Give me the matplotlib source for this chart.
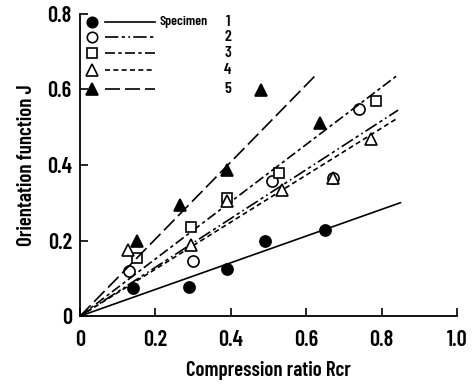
import matplotlib
matplotlib.use("Agg")
import matplotlib.pyplot as plt
import numpy as np

# ---- data ----
x1 = [0.14, 0.29, 0.39, 0.49, 0.65]
y1 = [0.074, 0.076, 0.125, 0.199, 0.229]
x2 = [0.13, 0.30, 0.51, 0.67, 0.74]
y2 = [0.120, 0.147, 0.357, 0.365, 0.547]
x3 = [0.15, 0.295, 0.39, 0.527, 0.785]
y3 = [0.153, 0.236, 0.313, 0.378, 0.569]
x4 = [0.127, 0.293, 0.39, 0.535, 0.67, 0.771]
y4 = [0.174, 0.188, 0.305, 0.335, 0.365, 0.470]
x5 = [0.151, 0.266, 0.39, 0.481, 0.636]
y5 = [0.198, 0.295, 0.388, 0.598, 0.510]
fit_slope = [0.353, 0.646, 0.757, 0.622, 1.02]
fit_xend = [0.85, 0.844, 0.84, 0.844, 0.627]
specimens = ["1", "2", "3", "4", "5"]
xticks = [0, 0.2, 0.4, 0.6, 0.8, 1.0]
xticklabels = ["0", "0.2", "0.4", "0.6", "0.8", "1.0"]
yticks = [0, 0.2, 0.4, 0.6, 0.8]
yticklabels = ["0", "0.2", "0.4", "0.6", "0.8"]

FONT = dict(family=["Barlow Condensed", "Archivo Narrow", "Liberation Sans", "DejaVu Sans"],
            weight="semibold")

fig = plt.figure(figsize=(4.74, 3.85), dpi=100)
ax = fig.add_axes([0.169, 0.179, 0.795, 0.785])

xs = [x1, x2, x3, x4, x5]
ys = [y1, y2, y3, y4, y5]
markers = ["o", "o", "s", "^", "^"]
fills = ["black", "white", "white", "white", "black"]
msizes = [8, 8, 7, 8.5, 8.5]
dashes = [(None), (8, 2, 2, 2, 1, 2), (6, 2, 2, 2), (3, 2), (9, 3)]

for i in range(5):
    xe = np.array([0.0, fit_xend[i]])
    ls = "-" if dashes[i] is None else (0, dashes[i])
    ax.plot(xe, fit_slope[i] * xe, color="black", lw=1.2, linestyle=ls)
    ax.plot(xs[i], ys[i], linestyle="none", marker=markers[i], ms=msizes[i],
            mfc=fills[i], mec="black", mew=1.2)

# legend (manual)
leg_y = [0.778, 0.740, 0.697, 0.652, 0.602]
for i in range(5):
    ax.plot([0.032], [leg_y[i]], linestyle="none", marker=markers[i], ms=msizes[i] - 0.5,
            mfc=fills[i], mec="black", mew=1.2)
    ls = "-" if dashes[i] is None else (0, dashes[i])
    ax.plot([0.066, 0.20 if i == 0 else 0.198], [leg_y[i], leg_y[i]], color="black", lw=1.2, linestyle=ls)
    ax.text(0.392, leg_y[i], specimens[i], ha="center", va="center", fontsize=11.5, **FONT)
ax.text(0.21, leg_y[0], "Specimen", ha="left", va="center", fontsize=10, **FONT)

ax.set_xlim(0, 1.0)
ax.set_ylim(0, 0.8)
for s in ["top", "right"]:
    ax.spines[s].set_visible(False)
for s in ["left", "bottom"]:
    ax.spines[s].set_linewidth(1.3)
ax.set_xticks(xticks)
ax.set_xticklabels(xticklabels, fontsize=16, **FONT)
ax.set_yticks(yticks)
ax.set_yticklabels(yticklabels, fontsize=16, **FONT)
ax.tick_params(direction="in", length=6, width=1.2, pad=6)
ax.tick_params(axis="x", pad=10)
ax.set_xlabel("Compression ratio Rcr", fontsize=15, labelpad=8, **FONT)
ax.set_ylabel("Orientation function J", fontsize=15, labelpad=8, **FONT)

fig.savefig("out.png", dpi=100)
